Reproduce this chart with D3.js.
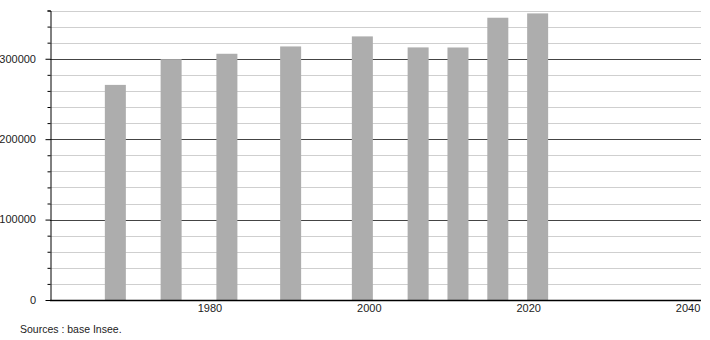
<!DOCTYPE html>
<html>
<head>
<meta charset="utf-8">
<script src="https://cdn.jsdelivr.net/npm/d3@7"></script>
<style>
  body { margin: 0; background: #fff; }
  svg { display: block; font-family: "Liberation Sans", Arial, sans-serif; }
</style>
</head>
<body>
<svg id="svg" width="710" height="340"></svg>
<script>
const years = [1968, 1975, 1982, 1990, 1999, 2006, 2011, 2016, 2021]
const population = [267500, 299500, 306200, 315300, 327800, 314100, 314000, 351000, 356400]
const xTickLabels = [1980, 2000, 2020, 2040]
const yTickLabels = [0, 100000, 200000, 300000]
const sourceText = 'Sources : base Insee.'

const $svg = d3.select('#svg')

const scaleX = d3.scaleLinear()
	.domain([1959.8, 2041.5])
	.range([50, 701])
const scaleY = d3.scaleLinear()
	.domain([0, 360000])
	.range([300, 10.5])

const gridValues = d3.range(20000, 360001, 20000)

// horizontal grid
$svg.append('g')
	.selectAll('line')
	.data(gridValues)
	.join('line')
	.attr('x1', 50)
	.attr('x2', 701)
	.attr('y1', d => Math.round(scaleY(d)) + 0.5)
	.attr('y2', d => Math.round(scaleY(d)) + 0.5)
	.attr('stroke', d => d % 100000 === 0 ? '#444' : '#cfcfcf')
	.attr('stroke-width', 1)

// bars
const barWidth = 21
$svg.append('g')
	.selectAll('rect')
	.data(years)
	.join('rect')
	.attr('x', (d, i) => scaleX(d) - barWidth / 2)
	.attr('y', (d, i) => scaleY(population[i]))
	.attr('width', barWidth)
	.attr('height', (d, i) => scaleY(0) - scaleY(population[i]))
	.attr('fill', '#adadad')

// y axis
const yAxis = d3.axisLeft(scaleY)
	.tickValues(gridValues.concat([0]))
	.tickSize(3)
	.tickFormat('')
const $yAxis = $svg.append('g')
	.attr('transform', 'translate(50.5,0)')
	.call(yAxis)
$yAxis.select('.domain').attr('stroke', '#000')
$yAxis.selectAll('.tick line')
	.attr('stroke', '#000')
	.attr('x2', d => d % 100000 === 0 ? -5 : -3)

$svg.append('g')
	.selectAll('text')
	.data(yTickLabels)
	.join('text')
	.attr('x', 36)
	.attr('y', d => scaleY(d))
	.attr('dy', '0.35em')
	.attr('text-anchor', 'end')
	.attr('font-size', 11)
	.attr('fill', '#222')
	.text(d => d)

// x axis
$svg.append('line')
	.attr('x1', 50)
	.attr('x2', 701)
	.attr('y1', 300.5)
	.attr('y2', 300.5)
	.attr('stroke', '#000')
	.attr('stroke-width', 1.3)

$svg.append('g')
	.selectAll('text')
	.data(xTickLabels)
	.join('text')
	.attr('x', d => scaleX(d) - 1)
	.attr('y', 312)
	.attr('text-anchor', 'middle')
	.attr('font-size', 11)
	.attr('fill', '#222')
	.text(d => d)

$svg.append('text')
	.attr('x', 20)
	.attr('y', 333)
	.attr('font-size', 10.5)
	.attr('fill', '#222')
	.text(sourceText)
</script>
</body>
</html>
